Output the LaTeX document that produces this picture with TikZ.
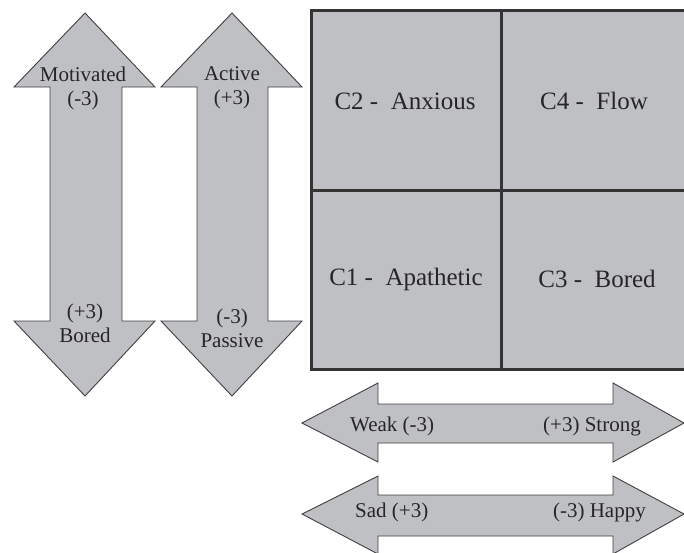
\documentclass[tikz,border=0pt]{standalone}
\usepackage{fontspec}
\setmainfont{Liberation Serif}
\definecolor{fillgray}{RGB}{191,192,195}
\definecolor{edgegray}{RGB}{64,64,64}
\definecolor{gridgray}{RGB}{52,52,52}
\definecolor{txtgray}{RGB}{38,38,38}
\tikzset{
  arrowshape/.style={fill=fillgray, draw=edgegray, line width=0.9pt, line join=miter},
  gridline/.style={draw=gridgray, line width=3pt},
  cell/.style={font=\fontsize{25}{28}\selectfont, text=txtgray, inner sep=0pt},
  alabel/.style={font=\fontsize{21}{24}\selectfont, text=txtgray, inner sep=0pt, align=center},
}
\begin{document}
\begin{tikzpicture}[x=1pt,y=-1pt]
\useasboundingbox (0,0) rectangle (684,552);
\clip (0,0) rectangle (684,552);
% vertical arrow 1
\path[arrowshape] (85,13) -- (155,87) -- (122,87) -- (122,321) -- (155,321) -- (85,396)
  -- (14,321) -- (50,321) -- (50,87) -- (14,87) -- cycle;
% vertical arrow 2
\path[arrowshape] (232,13) -- (302,87) -- (268,87) -- (268,321) -- (302,321) -- (232,396)
  -- (161,321) -- (197,321) -- (197,87) -- (161,87) -- cycle;
% horizontal arrow 1
\path[arrowshape] (302,423) -- (378,383) -- (378,404) -- (613,404) -- (613,383) -- (684,423)
  -- (613,462) -- (613,443) -- (378,443) -- (378,462) -- cycle;
% horizontal arrow 2
\path[arrowshape] (302,514) -- (378,476) -- (378,495) -- (613,495) -- (613,476) -- (684,514)
  -- (613,554) -- (613,536) -- (378,536) -- (378,554) -- cycle;
% grid
\fill[fillgray] (311,10) rectangle (688,369);
\draw[gridline] (311,10) rectangle (688,369);
\draw[gridline] (501,10) -- (501,369);
\draw[gridline] (311,190) -- (688,190);
% cell labels
\node[cell] (c2) at (405,101) {C2 - ~Anxious};
\node[cell] (c4) at (594,101) {C4 - ~Flow};
\node[cell] (c1) at (406,279) {C1 - ~Apathetic};
\node[cell] (c3) at (597,279) {C3 - ~Bored};
% vertical arrow labels
\node[alabel] (mot) at (83,88) {Motivated\\(-3)};
\node[alabel] (bor) at (85,323) {(+3)\\Bored};
\node[alabel] (act) at (232,88) {Active\\(+3)};
\node[alabel] (pas) at (232,328) {(-3)\\Passive};
% horizontal arrow labels
\node[alabel, anchor=west] (weak) at (350,426) {Weak (-3)};
\node[alabel, anchor=east] (strong) at (641,426) {(+3) Strong};
\node[alabel, anchor=west] (sad) at (355,512) {Sad (+3)};
\node[alabel, anchor=east] (happy) at (646,512) {(-3) Happy};
\end{tikzpicture}
\end{document}
